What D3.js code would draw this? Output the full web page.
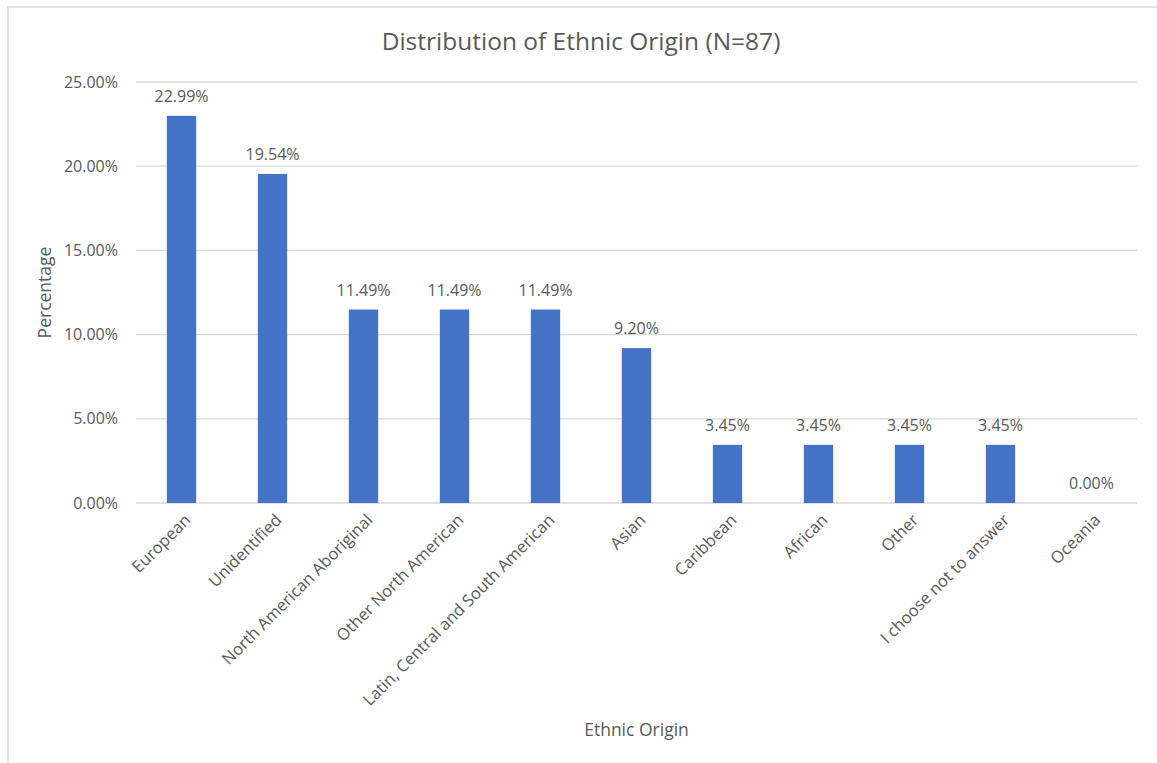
<!DOCTYPE html>
<html>
<head>
<meta charset="utf-8">
<script src="https://cdn.jsdelivr.net/npm/d3@7"></script>
<style>
  body { margin: 0; background: #fff; }
  text { font-family: "Open Sans", "Noto Sans", sans-serif; fill: #595959; }
</style>
</head>
<body>
<script>
// Data
var categories = ["European", "Unidentified", "North American Aboriginal", "Other North American",
  "Latin, Central and South American", "Asian", "Caribbean", "African", "Other",
  "I choose not to answer", "Oceania"];
var percentages = [22.99, 19.54, 11.49, 11.49, 11.49, 9.20, 3.45, 3.45, 3.45, 3.45, 0.00];
var yTicks = [0, 5, 10, 15, 20, 25];

//Settings
var width = 1157;
var height = 763;
var plotLeft = 136, plotRight = 1137, plotTop = 82, plotBottom = 503;

var svg = d3.select("body").append("svg").attr("width", width).attr("height", height);

//Frame (only top and left edges are visible in the picture)
svg.append("rect").attr("x", 8).attr("y", 7).attr("width", 1160).attr("height", 770)
  .attr("fill", "#fff").attr("stroke", "#d9d9d9").attr("stroke-width", 1.5);

var x = d3.scaleBand().domain(categories).range([plotLeft, plotRight]).paddingInner(0.678).paddingOuter(0.339);
var y = d3.scaleLinear().domain([0, 25]).range([plotBottom, plotTop]);

//Grid
svg.append("g").selectAll("line").data(yTicks).join("line")
  .attr("x1", plotLeft).attr("x2", plotRight)
  .attr("y1", d => y(d)).attr("y2", d => y(d))
  .attr("stroke", "#d9d9d9").attr("stroke-width", 1.3);

//Y tick labels
svg.append("g").selectAll("text").data(yTicks).join("text")
  .attr("x", 118).attr("y", d => y(d)).attr("dy", "0.35em")
  .attr("text-anchor", "end").style("font-size", "16px")
  .text(d => d.toFixed(2) + "%");

//Bars
svg.append("g").selectAll("rect").data(percentages).join("rect")
  .attr("x", (d, i) => x(categories[i]))
  .attr("y", d => y(d))
  .attr("width", x.bandwidth())
  .attr("height", d => y(0) - y(d))
  .attr("fill", "#4472c4");

//Value labels
svg.append("g").selectAll("text").data(percentages).join("text")
  .attr("x", (d, i) => x(categories[i]) + x.bandwidth() / 2)
  .attr("y", d => y(d) - 14)
  .attr("text-anchor", "middle").style("font-size", "16px")
  .text(d => d.toFixed(2) + "%");

//X tick labels
svg.append("g").selectAll("text").data(categories).join("text")
  .attr("transform", d => "translate(" + (x(d) + x.bandwidth() / 2 + 6) + "," + 517 + ") rotate(-45)")
  .attr("text-anchor", "end").attr("dy", "0.35em").style("font-size", "16.5px")
  .text(d => d);

//Titles
svg.append("text").attr("x", 581).attr("y", 50).attr("text-anchor", "middle")
  .style("font-size", "24.5px").text("Distribution of Ethnic Origin (N=87)");
svg.append("text").attr("x", (plotLeft + plotRight) / 2).attr("y", 736).attr("text-anchor", "middle")
  .style("font-size", "17.5px").text("Ethnic Origin");
svg.append("text").attr("transform", "translate(51," + ((plotTop + plotBottom) / 2) + ") rotate(-90)")
  .attr("text-anchor", "middle").style("font-size", "17.5px").text("Percentage");
</script>
</body>
</html>
